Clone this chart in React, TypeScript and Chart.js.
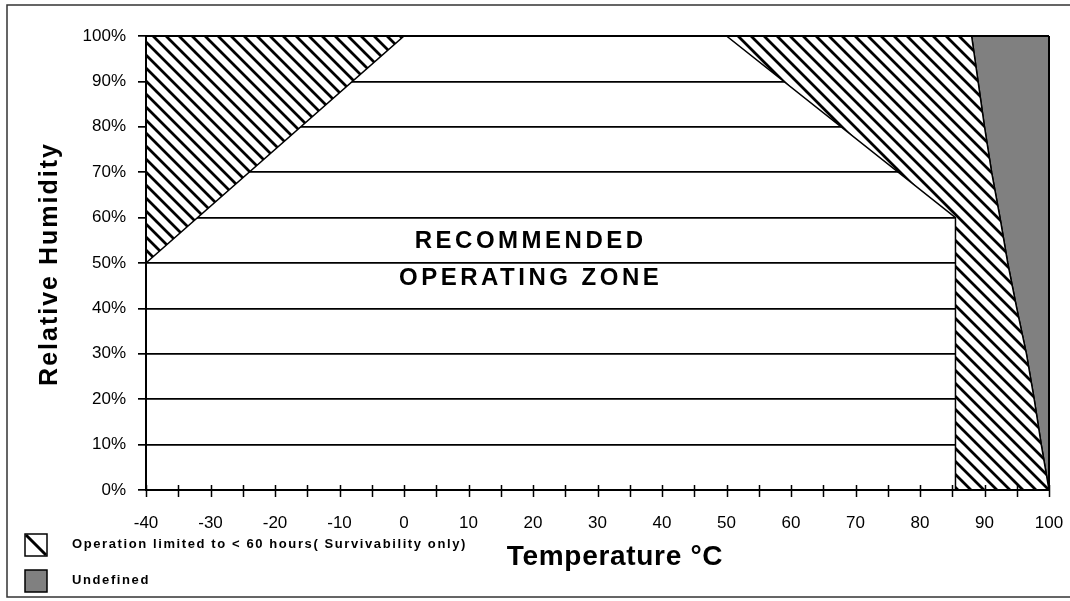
import React, { useEffect, useRef } from "react";
import { Chart, registerables } from "chart.js";

Chart.register(...registerables);

// ---- data ----
const limitedLeftTemp = [-40, -40, 0, -40];
const limitedLeftRH = [50, 100, 100, 50];

const limitedRightTemp = [50, 88, 89, 90, 91.1, 92.4, 93.6, 95, 96.5, 97.7, 98.8, 100, 85.5, 85.5, 50];
const limitedRightRH = [100, 100, 90, 80, 70, 60, 50, 40, 30, 20, 10, 0, 0, 60, 100];

const undefinedTemp = [88, 100, 100, 98.8, 97.7, 96.5, 95, 93.6, 92.4, 91.1, 90, 89, 88];
const undefinedRH = [100, 100, 0, 10, 20, 30, 40, 50, 60, 70, 80, 90, 100];

const xTitle = "Temperature °C";
const yTitle = "Relative Humidity";
const zoneLines = ["RECOMMENDED", "OPERATING ZONE"];
const zoneLabelTemp = 19.4;
const zoneLabelRH = [54.7, 46.6];
const legendLabels = ["Operation limited to < 60 hours( Survivability only)", "Undefined"];

const FONT = "'Liberation Sans', Arial, Helvetica, sans-serif";

function pts(xs: number[], ys: number[]) {
  return xs.map((x, i) => ({ x, y: ys[i] }));
}

function makeHatch(): CanvasPattern {
  const s = 13;
  const c = document.createElement("canvas");
  c.width = s;
  c.height = s;
  const g = c.getContext("2d")!;
  g.fillStyle = "#fff";
  g.fillRect(0, 0, s, s);
  g.strokeStyle = "#000";
  g.lineWidth = 2.8;
  g.beginPath();
  g.moveTo(-2, -2);
  g.lineTo(s + 2, s + 2);
  g.moveTo(-2, s - 2);
  g.lineTo(2, s + 2);
  g.moveTo(s - 2, -2);
  g.lineTo(s + 2, 2);
  g.stroke();
  return g.createPattern(c, "repeat")!;
}

export default function App() {
  const ref = useRef<HTMLCanvasElement | null>(null);

  useEffect(() => {
    if (!ref.current) return;
    const hatch = makeHatch();

    const overlay = {
      id: "overlay",
      afterDatasetsDraw(chart: any) {
        const { ctx, scales } = chart;
        const x = scales.x;
        const y = scales.y;
        const L = x.getPixelForValue(-40);
        const R = x.getPixelForValue(100);
        const T = y.getPixelForValue(100);
        const B = y.getPixelForValue(0);
        ctx.save();
        ctx.strokeStyle = "#000";
        ctx.lineWidth = 2;
        ctx.beginPath();
        ctx.moveTo(L, T);
        ctx.lineTo(R, T);
        ctx.moveTo(R, T);
        ctx.lineTo(R, B);
        ctx.moveTo(L, T);
        ctx.lineTo(L, B + 1);
        ctx.moveTo(L - 1, B);
        ctx.lineTo(R + 1, B);
        ctx.stroke();
        // crossing x ticks
        ctx.lineWidth = 1.5;
        ctx.beginPath();
        x.ticks.forEach((t: any) => {
          const px = Math.round(x.getPixelForValue(t.value)) + 0.5;
          ctx.moveTo(px, B - 5);
          ctx.lineTo(px, B + 7);
        });
        ctx.stroke();

        // zone text
        ctx.fillStyle = "#000";
        ctx.font = `bold 24px ${FONT}`;
        ctx.textAlign = "center";
        ctx.textBaseline = "middle";
        (ctx as any).letterSpacing = "3.5px";
        zoneLines.forEach((s, i) => {
          ctx.fillText(s, x.getPixelForValue(zoneLabelTemp) + 1.5, y.getPixelForValue(zoneLabelRH[i]));
        });

        // axis titles
        ctx.textBaseline = "alphabetic";
        ctx.font = `bold 28px ${FONT}`;
        (ctx as any).letterSpacing = "0.7px";
        ctx.fillText(xTitle, 615, 565);
        ctx.textBaseline = "middle";
        ctx.font = `bold 25px ${FONT}`;
        (ctx as any).letterSpacing = "2px";
        ctx.save();
        ctx.translate(50, (T + B) / 2 + 1);
        ctx.rotate(-Math.PI / 2);
        ctx.fillText(yTitle, 0, 0);
        ctx.restore();
        (ctx as any).letterSpacing = "0px";

        // legend
        ctx.lineWidth = 1.5;
        ctx.fillStyle = "#fff";
        ctx.fillRect(25, 534, 22, 22);
        ctx.strokeRect(25, 534, 22, 22);
        ctx.lineWidth = 3;
        ctx.beginPath();
        ctx.moveTo(26, 535);
        ctx.lineTo(46, 555);
        ctx.stroke();
        ctx.lineWidth = 1.5;
        ctx.fillStyle = "#808080";
        ctx.fillRect(25, 570, 22, 22);
        ctx.strokeRect(25, 570, 22, 22);
        ctx.fillStyle = "#000";
        ctx.textAlign = "left";
        ctx.font = `bold 13px ${FONT}`;
        (ctx as any).letterSpacing = "1.6px";
        ctx.fillText(legendLabels[0], 72, 544);
        ctx.fillText(legendLabels[1], 72, 580);
        (ctx as any).letterSpacing = "0px";

        // outer frame
        ctx.strokeStyle = "#333";
        ctx.lineWidth = 1.5;
        ctx.strokeRect(7, 5, 1200, 592);
        ctx.restore();
      },
    };

    const common = { pointRadius: 0, borderColor: "#000", borderWidth: 1.5, tension: 0, fill: "shape" as any };

    const chart = new Chart(ref.current, {
      type: "line",
      data: {
        datasets: [
          { ...common, label: legendLabels[0], data: pts(limitedLeftTemp, limitedLeftRH), backgroundColor: hatch },
          { ...common, label: legendLabels[0], data: pts(limitedRightTemp, limitedRightRH), backgroundColor: hatch },
          { ...common, label: legendLabels[1], data: pts(undefinedTemp, undefinedRH), backgroundColor: "#808080" },
        ],
      },
      options: {
        animation: false,
        responsive: false,
        devicePixelRatio: 1,
        layout: { padding: { left: 0, top: 36, right: 21, bottom: 0 } },
        plugins: { legend: { display: false }, tooltip: { enabled: false } },
        scales: {
          x: {
            type: "linear",
            min: -40,
            max: 100,
            ticks: {
              stepSize: 5,
              autoSkip: false,
              maxRotation: 0,
              padding: 5,
              color: "#000",
              font: { family: FONT, size: 17 },
              callback: (v: any) => (Number(v) % 10 === 0 ? String(v) : ""),
            },
            grid: { drawOnChartArea: false, drawTicks: true, tickLength: 18, tickColor: "rgba(0,0,0,0)" },
            border: { display: false },
            afterFit: (s: any) => {
              s.height = 111;
            },
          },
          y: {
            min: 0,
            max: 100,
            ticks: {
              stepSize: 10,
              padding: 12,
              color: "#000",
              font: { family: FONT, size: 17 },
              callback: (v: any) => `${v}%`,
            },
            grid: { color: "#000", lineWidth: 1.7, tickLength: 8 },
            border: { display: false },
            afterFit: (s: any) => {
              s.width = 146;
            },
          },
        },
      },
      plugins: [overlay],
    });
    return () => chart.destroy();
  }, []);

  return (
    <div style={{ position: "fixed", left: 0, top: 0, width: 1070, height: 601, background: "#fff" }}>
      <canvas ref={ref} width={1070} height={601} style={{ width: 1070, height: 601, display: "block" }} />
    </div>
  );
}
